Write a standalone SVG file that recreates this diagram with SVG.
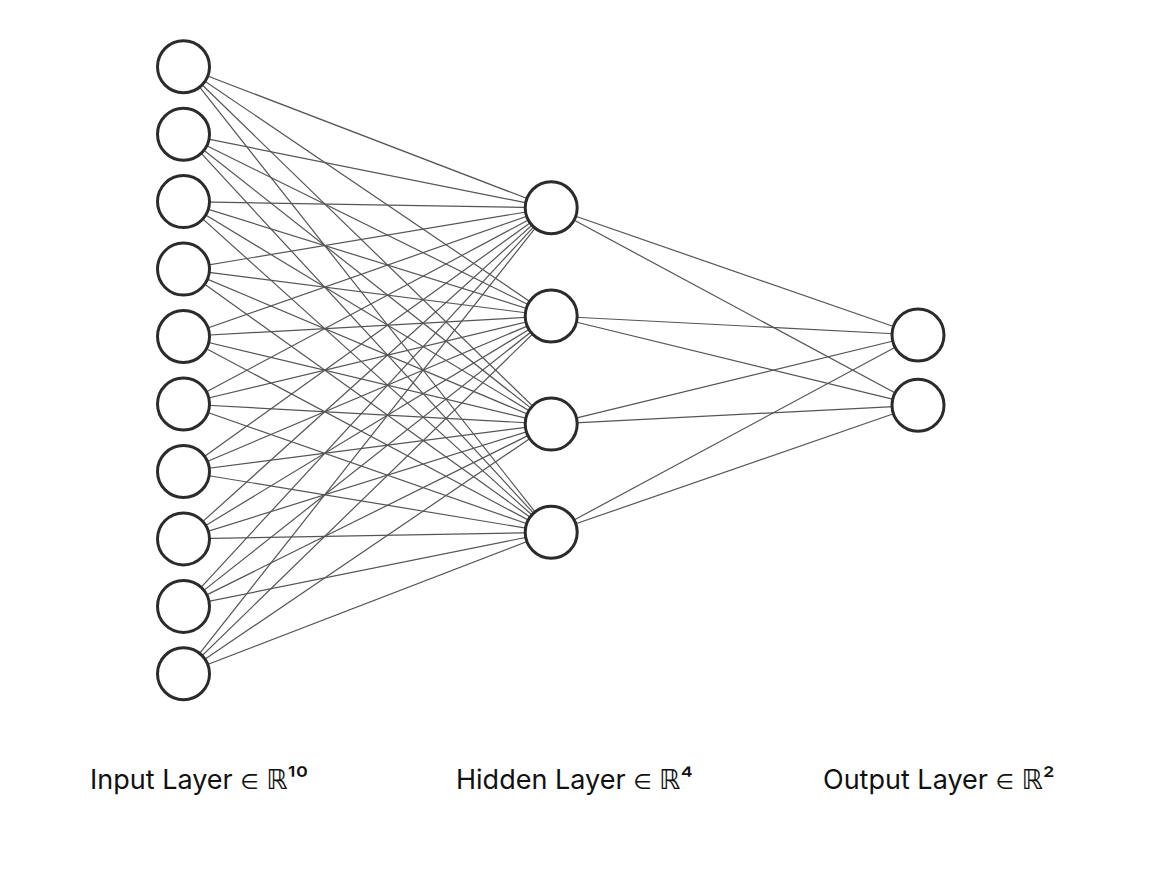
<svg xmlns="http://www.w3.org/2000/svg" width="1154" height="876" viewBox="0 0 1154 876">
<style>
.n{fill:#fff;stroke:#2b2b2b;stroke-width:3}
.e line{stroke:#555;stroke-width:1.2}
.t{font-family:Inter,"Liberation Sans","DejaVu Sans",sans-serif;font-size:27px;font-weight:400;fill:#111}
.s{font-size:21px}
.r{font-family:"DejaVu Sans",sans-serif}
</style>
<rect width="1154" height="876" fill="#fff"/>
<g class="e" id="connectors">
<line x1="183.5" y1="66.7" x2="551.2" y2="207.8"/><line x1="183.5" y1="66.7" x2="551.2" y2="316"/><line x1="183.5" y1="66.7" x2="551.2" y2="424.1"/><line x1="183.5" y1="66.7" x2="551.2" y2="532.3"/>
<line x1="183.5" y1="134.2" x2="551.2" y2="207.8"/><line x1="183.5" y1="134.2" x2="551.2" y2="316"/><line x1="183.5" y1="134.2" x2="551.2" y2="424.1"/><line x1="183.5" y1="134.2" x2="551.2" y2="532.3"/>
<line x1="183.5" y1="201.6" x2="551.2" y2="207.8"/><line x1="183.5" y1="201.6" x2="551.2" y2="316"/><line x1="183.5" y1="201.6" x2="551.2" y2="424.1"/><line x1="183.5" y1="201.6" x2="551.2" y2="532.3"/>
<line x1="183.5" y1="269.1" x2="551.2" y2="207.8"/><line x1="183.5" y1="269.1" x2="551.2" y2="316"/><line x1="183.5" y1="269.1" x2="551.2" y2="424.1"/><line x1="183.5" y1="269.1" x2="551.2" y2="532.3"/>
<line x1="183.5" y1="336.5" x2="551.2" y2="207.8"/><line x1="183.5" y1="336.5" x2="551.2" y2="316"/><line x1="183.5" y1="336.5" x2="551.2" y2="424.1"/><line x1="183.5" y1="336.5" x2="551.2" y2="532.3"/>
<line x1="183.5" y1="404" x2="551.2" y2="207.8"/><line x1="183.5" y1="404" x2="551.2" y2="316"/><line x1="183.5" y1="404" x2="551.2" y2="424.1"/><line x1="183.5" y1="404" x2="551.2" y2="532.3"/>
<line x1="183.5" y1="471.5" x2="551.2" y2="207.8"/><line x1="183.5" y1="471.5" x2="551.2" y2="316"/><line x1="183.5" y1="471.5" x2="551.2" y2="424.1"/><line x1="183.5" y1="471.5" x2="551.2" y2="532.3"/>
<line x1="183.5" y1="538.9" x2="551.2" y2="207.8"/><line x1="183.5" y1="538.9" x2="551.2" y2="316"/><line x1="183.5" y1="538.9" x2="551.2" y2="424.1"/><line x1="183.5" y1="538.9" x2="551.2" y2="532.3"/>
<line x1="183.5" y1="606.4" x2="551.2" y2="207.8"/><line x1="183.5" y1="606.4" x2="551.2" y2="316"/><line x1="183.5" y1="606.4" x2="551.2" y2="424.1"/><line x1="183.5" y1="606.4" x2="551.2" y2="532.3"/>
<line x1="183.5" y1="673.8" x2="551.2" y2="207.8"/><line x1="183.5" y1="673.8" x2="551.2" y2="316"/><line x1="183.5" y1="673.8" x2="551.2" y2="424.1"/><line x1="183.5" y1="673.8" x2="551.2" y2="532.3"/>
<line x1="551.2" y1="207.8" x2="918" y2="335"/><line x1="551.2" y1="207.8" x2="918" y2="405.3"/>
<line x1="551.2" y1="316" x2="918" y2="335"/><line x1="551.2" y1="316" x2="918" y2="405.3"/>
<line x1="551.2" y1="424.1" x2="918" y2="335"/><line x1="551.2" y1="424.1" x2="918" y2="405.3"/>
<line x1="551.2" y1="532.3" x2="918" y2="335"/><line x1="551.2" y1="532.3" x2="918" y2="405.3"/>
</g>
<g id="in1"><circle class="n" cx="183.5" cy="66.7" r="26"/></g>
<g id="in2"><circle class="n" cx="183.5" cy="134.2" r="26"/></g>
<g id="in3"><circle class="n" cx="183.5" cy="201.6" r="26"/></g>
<g id="in4"><circle class="n" cx="183.5" cy="269.1" r="26"/></g>
<g id="in5"><circle class="n" cx="183.5" cy="336.5" r="26"/></g>
<g id="in6"><circle class="n" cx="183.5" cy="404" r="26"/></g>
<g id="in7"><circle class="n" cx="183.5" cy="471.5" r="26"/></g>
<g id="in8"><circle class="n" cx="183.5" cy="538.9" r="26"/></g>
<g id="in9"><circle class="n" cx="183.5" cy="606.4" r="26"/></g>
<g id="in10"><circle class="n" cx="183.5" cy="673.8" r="26"/></g>
<g id="h1"><circle class="n" cx="551.2" cy="207.8" r="26"/></g>
<g id="h2"><circle class="n" cx="551.2" cy="316" r="26"/></g>
<g id="h3"><circle class="n" cx="551.2" cy="424.1" r="26"/></g>
<g id="h4"><circle class="n" cx="551.2" cy="532.3" r="26"/></g>
<g id="o1"><circle class="n" cx="918" cy="335" r="26"/></g>
<g id="o2"><circle class="n" cx="918" cy="405.3" r="26"/></g>
<g id="labels">
<text class="t" x="90" y="789">Input Layer <tspan class="s">∈</tspan> <tspan class="r">ℝ</tspan>¹⁰</text>
<text class="t" x="456" y="789">Hidden Layer <tspan class="s">∈</tspan> <tspan class="r">ℝ</tspan>⁴</text>
<text class="t" x="823" y="789">Output Layer <tspan class="s">∈</tspan> <tspan class="r">ℝ</tspan>²</text>
</g>
</svg>
